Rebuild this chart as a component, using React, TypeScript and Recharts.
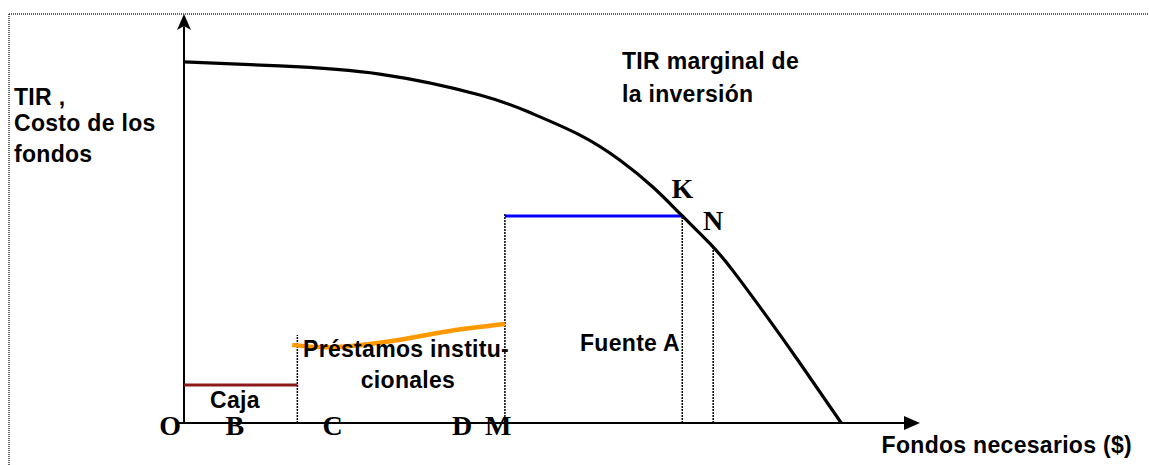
import React from 'react'
import { LineChart, Line, XAxis, YAxis, ReferenceLine, ReferenceDot } from 'recharts'

// TIR marginal curve (x = fondos, y = TIR)
const CURVE_X = [0, 13.0, 26.6, 40.2, 47.0, 53.8, 59.2, 63.7, 67.5, 71.5, 74.6, 79.2, 83.7, 89.3]
const CURVE_Y = [88.3, 87.3, 85.3, 80.2, 75.9, 70.4, 64.3, 57.7, 51.0, 43.8, 37.2, 26.0, 14.6, 0]

// cost of funds by source
const CAJA_X = [0, 15.4]
const CAJA_Y = [9.3, 9.3]
const PRESTAMOS_X = [14.7, 20.8, 29.8, 36.1, 43.6]
const PRESTAMOS_Y = [19.1, 18.6, 20.5, 22.5, 24.2]
const FUENTE_A_X = [43.6, 67.7]
const FUENTE_A_Y = [50.6, 50.6]

// dotted dividers: x position and height
const DIVIDER_X = [15.4, 43.6, 67.7, 71.9]
const DIVIDER_TOP = [21.5, 51.3, 50.6, 43.2]

// letters on the x axis and on the curve
const AXIS_LETTERS = ['O', 'B', 'C', 'D', 'M']
const AXIS_LETTER_X = [-1.9, 6.9, 20.2, 37.8, 42.7]
const CURVE_LETTERS = ['K', 'N']
const CURVE_LETTER_X = [67.7, 71.9]
const CURVE_LETTER_Y = [50.6, 44.0]

const toPoints = (xs: number[], ys: number[]) => xs.map((x, i) => ({ x, y: ys[i] }))

const curve = toPoints(CURVE_X, CURVE_Y)
const caja = toPoints(CAJA_X, CAJA_Y)
const prestamos = toPoints(PRESTAMOS_X, PRESTAMOS_Y)
const fuenteA = toPoints(FUENTE_A_X, FUENTE_A_Y)

const SANS = '"Liberation Sans", Arial, sans-serif'
const SERIF = '"Liberation Serif", "Times New Roman", serif'

const sansText = { fontFamily: SANS, fontWeight: 700, fontSize: 23, letterSpacing: 0.3, fill: '#000' }
const serifText = { fontFamily: SERIF, fontWeight: 700, fontSize: 28, fill: '#000' }

export default function App() {
  return (
    <div style={{ position: 'absolute', left: 0, top: 0, width: 1149, height: 465, background: '#fff' }}>
      <LineChart width={1149} height={465} margin={{ top: 14, right: 229, bottom: 42, left: 184 }}>
        <XAxis type="number" dataKey="x" domain={[0, 100]} hide allowDataOverflow />
        <YAxis type="number" dataKey="y" domain={[0, 100]} hide allowDataOverflow />

        {/* axes */}
        <ReferenceLine segment={[{ x: -1, y: 0 }, { x: 98, y: 0 }]} stroke="#000" strokeWidth={2} ifOverflow="visible" />
        <ReferenceLine segment={[{ x: 0, y: 0 }, { x: 0, y: 97 }]} stroke="#000" strokeWidth={2} ifOverflow="visible" />
        <ReferenceDot x={100} y={0} ifOverflow="visible"
          shape={(p: any) => <path d={`M${p.cx},${p.cy} L${p.cx - 16},${p.cy - 7} L${p.cx - 16},${p.cy + 7} Z`} fill="#000" />} />
        <ReferenceDot x={0} y={100} ifOverflow="visible"
          shape={(p: any) => <path d={`M${p.cx},${p.cy} L${p.cx - 7},${p.cy + 16} L${p.cx},${p.cy + 12} L${p.cx + 7},${p.cy + 16} Z`} fill="#000" />} />

        {/* dotted dividers */}
        {DIVIDER_X.map((x, i) => (
          <ReferenceLine key={i} segment={[{ x, y: 0 }, { x, y: DIVIDER_TOP[i] }]}
            stroke="#000" strokeWidth={1.5} strokeDasharray="2 1" ifOverflow="visible" />
        ))}

        <Line data={caja} dataKey="y" type="linear" stroke="#8b1a1a" strokeWidth={3} dot={false} isAnimationActive={false} />
        <Line data={fuenteA} dataKey="y" type="linear" stroke="#0000ff" strokeWidth={3} dot={false} isAnimationActive={false} />
        <Line data={prestamos} dataKey="y" type="natural" stroke="#ff9900" strokeWidth={4.5} dot={false} isAnimationActive={false} />
        <Line data={curve} dataKey="y" type="natural" stroke="#000" strokeWidth={3.2} dot={false} isAnimationActive={false} />

        {AXIS_LETTERS.map((l, i) => (
          <ReferenceDot key={l} x={AXIS_LETTER_X[i]} y={0} ifOverflow="visible"
            shape={(p: any) => <text x={p.cx} y={p.cy + 12} textAnchor="middle" style={serifText}>{l}</text>} />
        ))}
        {CURVE_LETTERS.map((l, i) => (
          <ReferenceDot key={l} x={CURVE_LETTER_X[i]} y={CURVE_LETTER_Y[i]} ifOverflow="visible"
            shape={(p: any) => <text x={p.cx} y={p.cy - (i === 0 ? 18 : 13)} textAnchor="middle" style={serifText}>{l}</text>} />
        ))}
      </LineChart>

      <svg width={1149} height={465} style={{ position: 'absolute', left: 0, top: 0, pointerEvents: 'none' }}>
        {/* dotted frame */}
        <line x1={9} y1={14} x2={1149} y2={14} stroke="#333" strokeWidth={1.5} strokeDasharray="1 1" />
        <line x1={9} y1={14} x2={9} y2={465} stroke="#333" strokeWidth={1.5} strokeDasharray="1 1" />

        <text x={14} y={105} style={sansText}>TIR ,</text>
        <text x={14} y={131} style={sansText}>Costo de los</text>
        <text x={14} y={162} style={sansText}>fondos</text>

        <text x={622} y={69} style={sansText}>TIR marginal de</text>
        <text x={622} y={102} style={sansText}>la inversión</text>

        <text x={303} y={357} style={sansText}>Préstamos institu-</text>
        <text x={408} y={388} textAnchor="middle" style={sansText}>cionales</text>
        <text x={235} y={408} textAnchor="middle" style={sansText}>Caja</text>
        <text x={580} y={351} style={sansText}>Fuente A</text>

        <text x={1132} y={453} textAnchor="end" style={sansText}>Fondos necesarios ($)</text>
      </svg>
    </div>
  )
}
